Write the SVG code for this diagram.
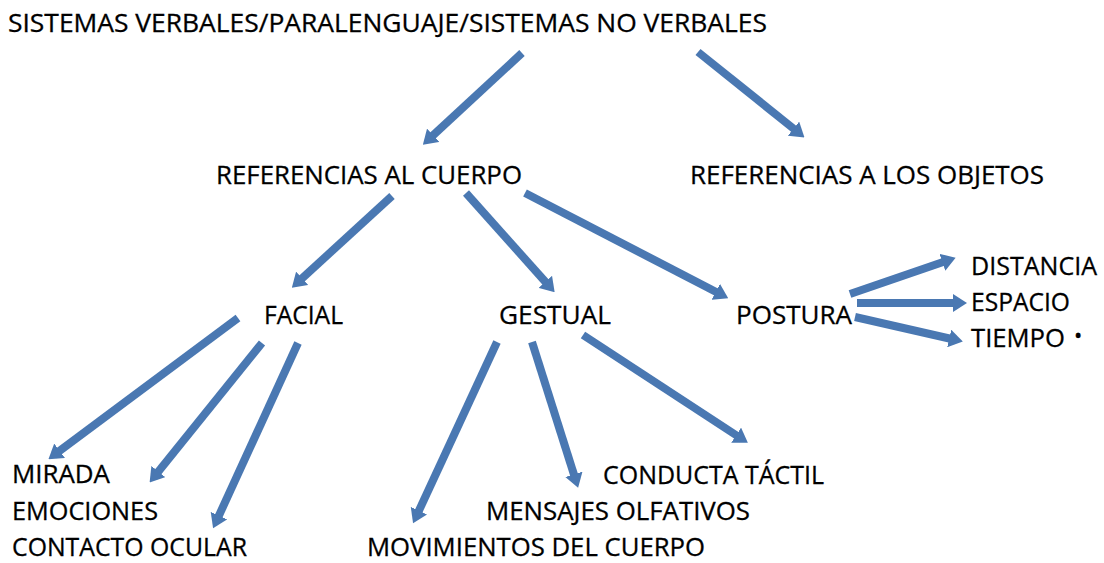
<svg xmlns="http://www.w3.org/2000/svg" width="1104" height="563" viewBox="0 0 1104 563">
<defs>
<style>
text{font-family:"Open Sans","Liberation Sans",sans-serif;font-size:26px;fill:#000;stroke:#000;stroke-width:0.3px;}
.c line{stroke:#4a78b2;stroke-width:8;marker-end:url(#ah);}
</style>
<marker id="ah" markerUnits="userSpaceOnUse" markerWidth="14" markerHeight="18" viewBox="0 0 14 18" refX="7" refY="9" orient="auto">
<path d="M0,0 L14,9 L0,18 z" fill="#4a78b2"/>
</marker>
</defs>
<rect width="1104" height="563" fill="#fff"/>
<g class="c" id="connectors">
<line x1="522" y1="53" x2="428" y2="140"/>
<line x1="698" y1="52" x2="799" y2="133"/>
<line x1="392" y1="196" x2="297" y2="283"/>
<line x1="466" y1="193" x2="550" y2="287"/>
<line x1="525" y1="193" x2="722" y2="295"/>
<line x1="238" y1="318" x2="54" y2="455"/>
<line x1="262" y1="343" x2="154" y2="477"/>
<line x1="298" y1="343" x2="216" y2="522"/>
<line x1="497" y1="342" x2="416" y2="517"/>
<line x1="532" y1="342" x2="576" y2="481"/>
<line x1="583" y1="335" x2="742" y2="439"/>
<line x1="850" y1="294" x2="949" y2="260"/>
<line x1="857" y1="303" x2="960" y2="303"/>
<line x1="855" y1="317" x2="956" y2="340"/>
</g>
<g id="n-title"><text x="8" y="32" textLength="759" lengthAdjust="spacingAndGlyphs">SISTEMAS VERBALES/PARALENGUAJE/SISTEMAS NO VERBALES</text></g>
<g id="n-cuerpo"><text x="216" y="184" textLength="306" lengthAdjust="spacingAndGlyphs">REFERENCIAS AL CUERPO</text></g>
<g id="n-objetos"><text x="690" y="184" textLength="354" lengthAdjust="spacingAndGlyphs">REFERENCIAS A LOS OBJETOS</text></g>
<g id="n-facial"><text x="264" y="324" textLength="79" lengthAdjust="spacingAndGlyphs">FACIAL</text></g>
<g id="n-gestual"><text x="499" y="324" textLength="112" lengthAdjust="spacingAndGlyphs">GESTUAL</text></g>
<g id="n-postura"><text x="736" y="324" textLength="116" lengthAdjust="spacingAndGlyphs">POSTURA</text></g>
<g id="n-distancia"><text x="971" y="275" textLength="126" lengthAdjust="spacingAndGlyphs">DISTANCIA</text></g>
<g id="n-espacio"><text x="971" y="311" textLength="99" lengthAdjust="spacingAndGlyphs">ESPACIO</text></g>
<g id="n-tiempo"><text x="971" y="347"><tspan textLength="94" lengthAdjust="spacingAndGlyphs">TIEMPO</tspan><tspan x="1074" y="343" style="font-size:22px">•</tspan></text></g>
<g id="n-mirada"><text x="12" y="483" textLength="98" lengthAdjust="spacingAndGlyphs">MIRADA</text></g>
<g id="n-emociones"><text x="12" y="520" textLength="146" lengthAdjust="spacingAndGlyphs">EMOCIONES</text></g>
<g id="n-contacto"><text x="12" y="556" textLength="235" lengthAdjust="spacingAndGlyphs">CONTACTO OCULAR</text></g>
<g id="n-tactil"><text x="603" y="484" textLength="221" lengthAdjust="spacingAndGlyphs">CONDUCTA TÁCTIL</text></g>
<g id="n-olfativos"><text x="486" y="520" textLength="264" lengthAdjust="spacingAndGlyphs">MENSAJES OLFATIVOS</text></g>
<g id="n-movimientos"><text x="367" y="556" textLength="338" lengthAdjust="spacingAndGlyphs">MOVIMIENTOS DEL CUERPO</text></g>
</svg>
